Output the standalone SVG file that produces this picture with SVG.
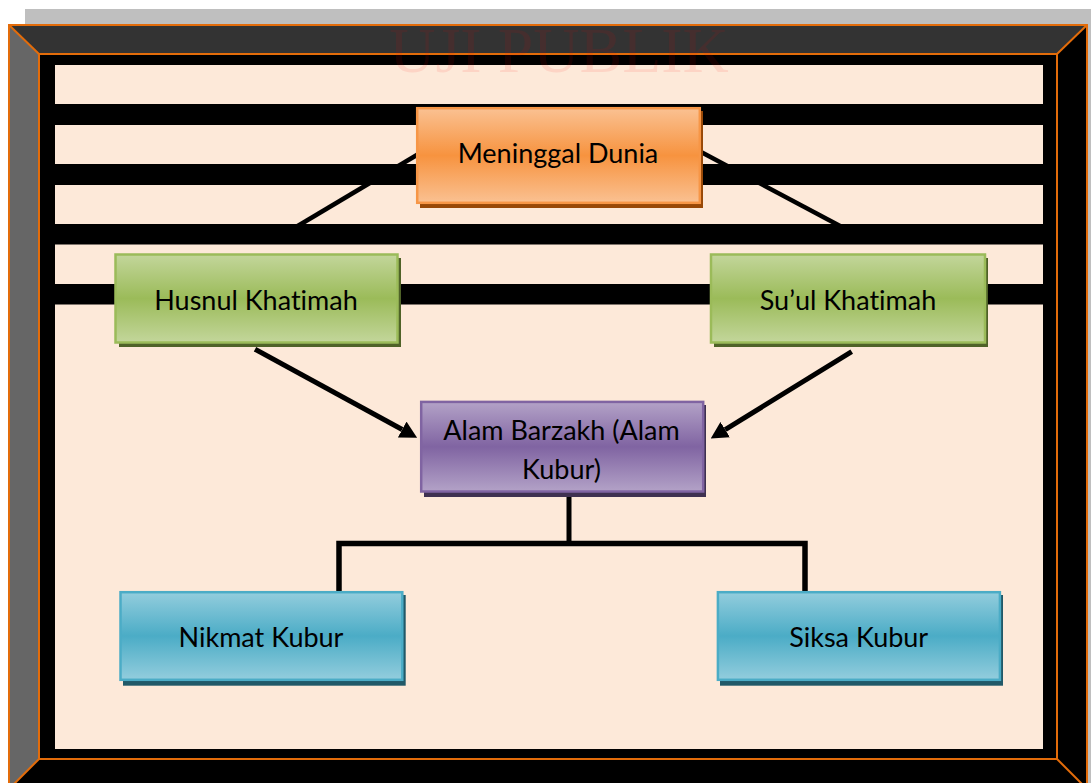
<svg xmlns="http://www.w3.org/2000/svg" width="1091" height="783" viewBox="0 0 1091 783">
<style>
.lbl{font-family:Lato,"Open Sans","Liberation Sans",sans-serif;font-size:27px;fill:#000;text-anchor:middle;font-variant-ligatures:none;font-feature-settings:"liga" 0}
.edge{stroke:#E36C0A;stroke-width:2;fill:none}
.stripe{fill:#000}
.conn{stroke:#000;fill:none}
</style>
<defs>
<linearGradient id="gOrange" x1="0" y1="0" x2="0" y2="1">
<stop offset="0" stop-color="#FAC192"/><stop offset="0.5" stop-color="#F7933F"/><stop offset="1" stop-color="#FAC192"/>
</linearGradient>
<linearGradient id="gGreen" x1="0" y1="0" x2="0" y2="1">
<stop offset="0" stop-color="#C3D69B"/><stop offset="0.5" stop-color="#9BBB59"/><stop offset="1" stop-color="#C3D69B"/>
</linearGradient>
<linearGradient id="gPurple" x1="0" y1="0" x2="0" y2="1">
<stop offset="0" stop-color="#B3A2C7"/><stop offset="0.5" stop-color="#8064A2"/><stop offset="1" stop-color="#B3A2C7"/>
</linearGradient>
<linearGradient id="gBlue" x1="0" y1="0" x2="0" y2="1">
<stop offset="0" stop-color="#93CDDD"/><stop offset="0.5" stop-color="#4BACC6"/><stop offset="1" stop-color="#93CDDD"/>
</linearGradient>
<marker id="arrow" viewBox="0 0 17 18" refX="0" refY="9" markerWidth="17" markerHeight="18" markerUnits="userSpaceOnUse" orient="auto">
<path d="M0,0 L17,9 L0,18 z" fill="#000"/>
</marker>
</defs>
<rect width="1091" height="783" fill="#FFFFFF"/>
<g id="frame">
<rect x="25" y="9" width="1066" height="16" fill="#BFBFBF"/>
<rect x="1087" y="9" width="4" height="774" fill="#BFBFBF"/>
<rect x="39" y="54" width="1018" height="705" fill="#000"/>
<rect x="55" y="65" width="988" height="684" fill="#FDE9D9"/>
<rect class="stripe" x="39" y="104" width="1018" height="21"/>
<rect class="stripe" x="39" y="164" width="1018" height="21"/>
<rect class="stripe" x="39" y="224" width="1018" height="20.5"/>
<rect class="stripe" x="39" y="284" width="1018" height="20.5"/>
<polygon points="9,25 39,54 39,759 9,789" fill="#666666"/>
<polygon points="9,25 1087,25 1057,54 39,54" fill="#333333"/>
<polygon points="1087,25 1087,789 1057,759 1057,54" fill="#000"/>
<polygon points="9,789 39,759 1057,759 1087,789" fill="#000"/>
<polygon class="edge" points="9,25 1087,25 1087,789 9,789"/>
<rect class="edge" x="39" y="54" width="1018" height="705"/>
<line class="edge" x1="9" y1="25" x2="39" y2="54"/>
<line class="edge" x1="1087" y1="25" x2="1057" y2="54"/>
<line class="edge" x1="9" y1="789" x2="39" y2="759"/>
<line class="edge" x1="1087" y1="789" x2="1057" y2="759"/>
</g>
<g id="connectors">
<line class="conn" stroke-width="4.5" x1="421" y1="152.5" x2="296" y2="227"/>
<line class="conn" stroke-width="4.5" x1="702" y1="152.5" x2="842" y2="227"/>
<line class="conn" stroke-width="5" x1="255" y1="349.3" x2="402.2" y2="429.5" marker-end="url(#arrow)"/>
<line class="conn" stroke-width="5" x1="851.7" y1="351.7" x2="725.2" y2="429.6" marker-end="url(#arrow)"/>
<line class="conn" stroke-width="5" x1="569" y1="493" x2="569" y2="543.5"/>
<polyline class="conn" stroke-width="5.5" stroke-linejoin="miter" points="339,591 339,543.5 805,543.5 805,591"/>
</g>
<g id="node-meninggal">
<rect x="420" y="111" width="283" height="97" fill="#984807"/>
<rect x="417.2" y="108.2" width="282.6" height="94.6" fill="url(#gOrange)" stroke="#F79646" stroke-width="2.5"/>
<text class="lbl" x="558" y="163">Meninggal Dunia</text>
</g>
<g id="node-husnul">
<rect x="119" y="258" width="282" height="89" fill="#4F6228"/>
<rect x="115.5" y="254.5" width="282" height="88" fill="url(#gGreen)" stroke="#9BBB59" stroke-width="2.5"/>
<text class="lbl" x="256" y="310">Husnul Khatimah</text>
</g>
<g id="node-suul">
<rect x="714" y="258" width="274" height="89" fill="#4F6228"/>
<rect x="711" y="254.5" width="274" height="88" fill="url(#gGreen)" stroke="#9BBB59" stroke-width="2.5"/>
<text class="lbl" x="848" y="310">Su’ul Khatimah</text>
</g>
<g id="node-alam">
<rect x="424" y="405" width="282" height="92" fill="#3F3151"/>
<rect x="421.2" y="401.9" width="282" height="89.6" fill="url(#gPurple)" stroke="#8064A2" stroke-width="2.5"/>
<text class="lbl" x="561.5" y="440">Alam Barzakh (Alam</text>
<text class="lbl" x="561.5" y="479">Kubur)</text>
</g>
<g id="node-nikmat">
<rect x="123" y="595" width="282.7" height="90.7" fill="#215968"/>
<rect x="120.5" y="592.2" width="281.8" height="87.6" fill="url(#gBlue)" stroke="#4BACC6" stroke-width="2.5"/>
<text class="lbl" x="261" y="646.7">Nikmat Kubur</text>
</g>
<g id="node-siksa">
<rect x="720" y="595" width="283" height="90.7" fill="#215968"/>
<rect x="717.9" y="592.2" width="282" height="87.6" fill="url(#gBlue)" stroke="#4BACC6" stroke-width="2.5"/>
<text class="lbl" x="858.7" y="646.7">Siksa Kubur</text>
</g>
<text x="559" y="71.7" font-family="'Liberation Serif','Times New Roman',serif" font-size="64" fill="#FF0000" fill-opacity="0.09" text-anchor="middle">UJI PUBLIK</text>
</svg>
